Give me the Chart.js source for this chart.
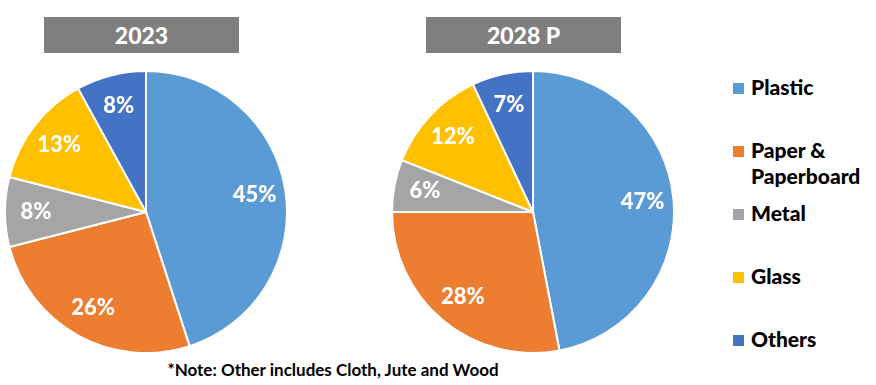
<!DOCTYPE html>
<html>
<head>
<meta charset="utf-8">
<script src="https://cdn.jsdelivr.net/npm/chart.js@4.4.0/dist/chart.umd.min.js"></script>
<style>
  body { margin: 0; width: 876px; height: 385px; background: #fff; position: relative; overflow: hidden;
         font-family: Lato, "Open Sans", sans-serif; }
  .box { position: absolute; top: 17px; width: 195px; height: 36px; background: #7f7f7f; color: #fff;
         font-weight: 900; font-size: 23px; line-height: 36px; text-align: center; }
  .pie { position: absolute; top: 70px; width: 284px; height: 284px; }
  #legend { position: absolute; left: 733px; top: 74px; }
  .item { height: 63px; position: relative; padding-left: 18px; font-size: 21px; font-weight: 900;
          line-height: 26px; color: #000; }
  .item span { position: absolute; left: 0; top: 9px; width: 11px; height: 11px; }
  #note { position: absolute; left: 0; width: 666px; top: 359px; text-align: center; font-size: 17px;
          font-weight: 700; color: #000; }
</style>
</head>
<body>
<div class="box" style="left:44px">2023</div>
<div class="box" style="left:426px">2028 P</div>
<div class="pie" style="left:4px"><canvas id="c1"></canvas></div>
<div class="pie" style="left:391px"><canvas id="c2"></canvas></div>
<div id="legend"></div>
<div id="note">*Note: Other includes Cloth, Jute and Wood</div>
<script>
var categories = ["Plastic", "Paper & Paperboard", "Metal", "Glass", "Others"];
var legendLines = [["Plastic"], ["Paper &", "Paperboard"], ["Metal"], ["Glass"], ["Others"]];
var share2023 = [45, 26, 8, 13, 8];
var share2028 = [47, 28, 6, 12, 7];
var colors = ["#5B9BD5", "#ED7D31", "#A5A5A5", "#FFC000", "#4472C4"];

// percent labels inside slices
var sliceLabels = {
  id: "sliceLabels",
  afterDatasetsDraw: function (chart) {
    var ctx = chart.ctx;
    var meta = chart.getDatasetMeta(0);
    var vals = chart.data.datasets[0].data;
    ctx.save();
    ctx.fillStyle = "#fff";
    ctx.font = "900 22px Lato, 'Open Sans', sans-serif";
    ctx.textAlign = "center";
    ctx.textBaseline = "middle";
    meta.data.forEach(function (arc, i) {
      var p = arc.getProps(["x", "y", "startAngle", "endAngle", "outerRadius"], true);
      var mid = (p.startAngle + p.endAngle) / 2;
      var r = p.outerRadius * 0.78;
      ctx.fillText(vals[i] + "%", p.x + Math.cos(mid) * r, p.y + Math.sin(mid) * r);
    });
    ctx.restore();
  }
};

function makePie(id, values) {
  new Chart(document.getElementById(id), {
    type: "pie",
    data: {
      labels: categories,
      datasets: [{ data: values, backgroundColor: colors, borderColor: "#fff", borderWidth: 2 }]
    },
    options: {
      responsive: true,
      maintainAspectRatio: false,
      animation: false,
      layout: { padding: 0 },
      plugins: { legend: { display: false }, tooltip: { enabled: false } }
    },
    plugins: [sliceLabels]
  });
}

makePie("c1", share2023);
makePie("c2", share2028);

var legend = document.getElementById("legend");
for (var i = 0; i < categories.length; i++) {
  var d = document.createElement("div");
  d.className = "item";
  d.innerHTML = '<span style="background:' + colors[i] + '"></span>' + legendLines[i].join("<br>");
  legend.appendChild(d);
}
</script>
</body>
</html>
